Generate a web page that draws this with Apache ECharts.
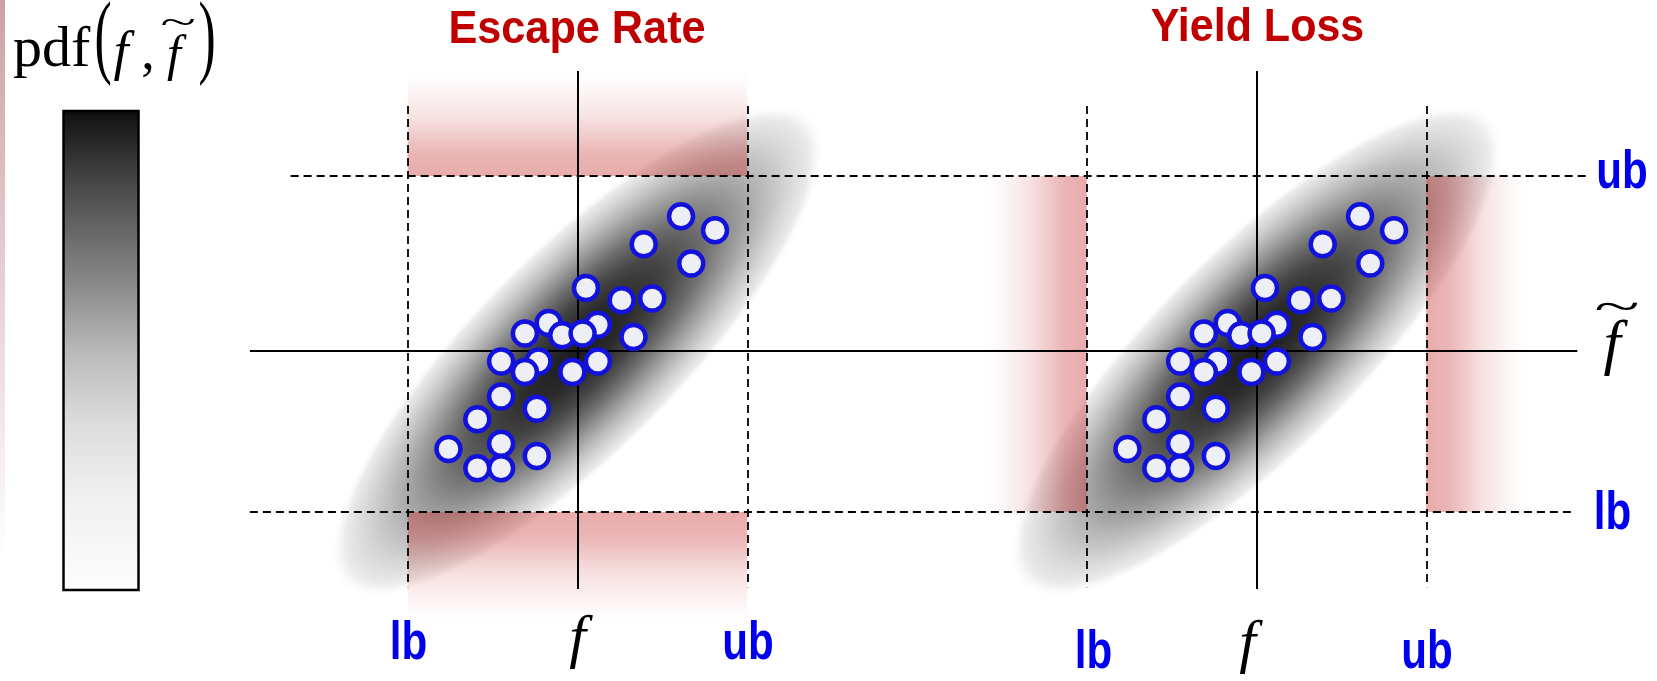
<!DOCTYPE html>
<html>
<head>
<meta charset="utf-8">
<script src="https://cdn.jsdelivr.net/npm/echarts@6/dist/echarts.min.js"></script>
<style>
html,body{margin:0;padding:0;background:#fff;}
#chart{width:1657px;height:681px;}
</style>
</head>
<body>
<div id="chart"></div>
<script>
// ---------------- data ----------------
const panelTitles = ['Escape Rate', 'Yield Loss'];
const panelCentres = [0, 4];            // f value where each panel's f-axis sits
const boundNames = ['lb', 'ub'];
const fBounds = [-1, 1];                // lb, ub on f (relative to panel centre)
const fTildeBounds = [-0.92, 1];        // lb, ub on f~
const fSamples = [0.61, 0.81, 0.39, 0.67, 0.05, 0.26, 0.44, -0.17, -0.31, 0.12, -0.09, 0.03, 0.33,
                  -0.45, -0.23, -0.31, 0.12, -0.03, -0.45, -0.24, -0.59, -0.76, -0.45, -0.24, -0.59, -0.45];
const fTildeSamples = [0.77, 0.69, 0.61, 0.50, 0.36, 0.29, 0.30, 0.16, 0.10, 0.15, 0.09, 0.10, 0.08,
                  -0.06, -0.06, -0.12, -0.06, -0.12, -0.26, -0.33, -0.39, -0.56, -0.53, -0.60, -0.67, -0.67];

// ---------------- styles ----------------
const solidLine = {color: '#000', width: 2, type: 'solid'};
const dashLine = {color: '#000', width: 1.8, type: [8, 5]};
const red = a => 'rgba(200,55,55,' + a + ')';
function bandGradient(x, y, x2, y2) {
  return {type: 'linear', x: x, y: y, x2: x2, y2: y2, colorStops: [
    {offset: 0, color: red(0.42)}, {offset: 0.22, color: red(0.37)},
    {offset: 0.55, color: red(0.15)}, {offset: 0.85, color: red(0.03)}, {offset: 1, color: red(0)}]};
}
const blobGradient = {type: 'radial', x: 0.5, y: 0.5, r: 0.5, colorStops: [
  {offset: 0, color: '#1c1c1c'}, {offset: 0.2, color: '#2b2b2b'}, {offset: 0.36, color: '#464646'},
  {offset: 0.5, color: '#6c6c6c'}, {offset: 0.62, color: '#939393'}, {offset: 0.74, color: '#b8b8b8'},
  {offset: 0.85, color: '#d6d6d6'}, {offset: 0.94, color: '#ebebeb'}, {offset: 1, color: 'rgba(255,255,255,0)'}]};

// ---------------- marks built from data ----------------
const lb = fTildeBounds[0], ub = fTildeBounds[1];
const lines = [
  [{coord: [-1.93, 0], lineStyle: solidLine}, {coord: [5.89, 0], lineStyle: solidLine}],
  [{coord: [-1.93, lb], lineStyle: dashLine}, {coord: [5.88, lb], lineStyle: dashLine}],
  [{coord: [-1.69, ub], lineStyle: dashLine}, {coord: [5.94, ub], lineStyle: dashLine}]
];
panelCentres.forEach(c => {
  lines.push([{coord: [c, 1.6], lineStyle: solidLine}, {coord: [c, -1.36], lineStyle: solidLine}]);
  fBounds.forEach(b => {
    lines.push([{coord: [c + b, 1.4], lineStyle: dashLine}, {coord: [c + b, -1.35], lineStyle: dashLine}]);
  });
});

const c0 = panelCentres[0], c1 = panelCentres[1];
const areas = [
  // Escape rate: f inside [lb,ub] but f~ outside
  [{coord: [c0 + fBounds[0], ub], itemStyle: {color: bandGradient(0, 1, 0, 0)}}, {coord: [c0 + fBounds[1], 1.606]}],
  [{coord: [c0 + fBounds[0], lb], itemStyle: {color: bandGradient(0, 0, 0, 1)}}, {coord: [c0 + fBounds[1], -1.566]}],
  // Yield loss: f~ inside [lb,ub] but f outside
  [{coord: [c1 + fBounds[0] - 0.6, lb], itemStyle: {color: bandGradient(1, 0, 0, 0)}}, {coord: [c1 + fBounds[0], ub]}],
  [{coord: [c1 + fBounds[1], lb], itemStyle: {color: bandGradient(0, 0, 1, 0)}}, {coord: [c1 + fBounds[1] + 0.6, ub]}]
];

const points = [];
panelCentres.forEach(c => fSamples.forEach((v, i) => points.push([c + v, fTildeSamples[i]])));

// ---------------- text ----------------
const sansBold = s => 'bold ' + s + 'px "Liberation Sans", Arial, sans-serif';
const serif = (s, it) => (it ? 'italic ' : '') + s + 'px "Liberation Serif", "Times New Roman", serif';
function txt(text, x, y, font, fill, sx, align, sy) {
  return {type: 'text', x: x, y: y, scaleX: sx || 1, scaleY: sy || 1, silent: true, z: 100,
    style: {text: text, font: font, fill: fill, align: align || 'center', verticalAlign: 'middle'}};
}
const blue = '#0000ee', title = '#c00000';
const graphics = [
  {type: 'rect', silent: true, shape: {x: 0, y: 0, width: 5, height: 560},
   style: {fill: {type: 'linear', x: 0, y: 0, x2: 0, y2: 1, colorStops: [
     {offset: 0, color: 'rgba(185,120,130,0.7)'}, {offset: 1, color: 'rgba(185,120,130,0)'}]}}},
  {type: 'rect', silent: true, shape: {x: 63.5, y: 111, width: 75, height: 479},
   style: {stroke: '#000', lineWidth: 2.5, fill: {type: 'linear', x: 0, y: 0, x2: 0, y2: 1, colorStops: [
     {offset: 0, color: '#060606'}, {offset: 0.015, color: '#151515'}, {offset: 0.16, color: '#4a4a4a'},
     {offset: 0.37, color: '#8c8c8c'}, {offset: 0.51, color: '#bbbbbb'}, {offset: 0.65, color: '#dcdcdc'},
     {offset: 0.8, color: '#f0f0f0'}, {offset: 1, color: '#fdfdfd'}]}}},
  txt('pdf', 13, 51, serif(58), '#000', 1, 'left'),
  txt('(', 103, 41.6, serif(94), '#000', 0.55),
  txt('f', 121, 54.5, serif(54, true), '#000'),
  txt(',', 148, 54.5, serif(54), '#000'),
  txt('f', 174, 57, serif(50, true), '#000'),
  txt('~', 178, 25, serif(44), '#000', 1.5, 'center', 0.8),
  txt(')', 207, 41.6, serif(94), '#000', 0.55),
  txt(panelTitles[0], 577, 30, sansBold(46), title, 0.94),
  txt(panelTitles[1], 1257.5, 28, sansBold(46), title, 0.935),
  txt(boundNames[0], 408.5, 644.3, sansBold(54), blue, 0.78),
  txt('f', 577.5, 640.4, serif(60, true), '#000'),
  txt(boundNames[1], 748, 644.3, sansBold(54), blue, 0.78),
  txt(boundNames[0], 1093.5, 653.3, sansBold(54), blue, 0.78),
  txt('f', 1247.5, 645.4, serif(60, true), '#000'),
  txt(boundNames[1], 1427, 653.3, sansBold(54), blue, 0.78),
  txt(boundNames[1], 1622, 173.3, sansBold(54), blue, 0.78),
  txt(boundNames[0], 1612.5, 514.3, sansBold(54), blue, 0.78),
  txt('f', 1612, 347, serif(62, true), '#000'),
  txt('~', 1617, 309, serif(56), '#000', 1.5, 'center', 0.8)
];

// ---------------- chart ----------------
const chart = echarts.init(document.getElementById('chart'));
chart.setOption({
  animation: false,
  backgroundColor: '#fff',
  grid: {left: 238, top: 71, width: 1358, height: 560, show: false},
  xAxis: {type: 'value', min: -2, max: 6, show: false},
  yAxis: {type: 'value', min: -1.6, max: 1.6, show: false},
  graphic: graphics,
  series: [
    {
      type: 'custom', z: 0, silent: true,
      data: panelCentres.map(c => [c, 0]),
      renderItem: function (params, api) {
        const p = api.coord([api.value(0), api.value(1)]);
        const s = api.size([1, 1]);
        const unit = (s[0] + s[1]) / 2;
        return {type: 'circle', x: p[0], y: p[1], rotation: Math.PI / 4,
          scaleX: 1.94 * unit, scaleY: 0.6 * unit, silent: true,
          shape: {cx: 0, cy: 0, r: 1}, style: {fill: blobGradient}};
      }
    },
    {
      type: 'scatter', data: [], silent: true,
      markArea: {silent: true, z: 1, label: {show: false}, data: areas}
    },
    {
      type: 'scatter', data: [], silent: true,
      markLine: {silent: true, z: 5, symbol: ['none', 'none'], label: {show: false}, data: lines}
    },
    {
      type: 'scatter', z: 10, silent: true, symbol: 'circle', symbolSize: 24,
      itemStyle: {color: '#eeeef5', borderColor: '#1212dc', borderWidth: 4.5, opacity: 1},
      data: points
    }
  ]
});
</script>
</body>
</html>
